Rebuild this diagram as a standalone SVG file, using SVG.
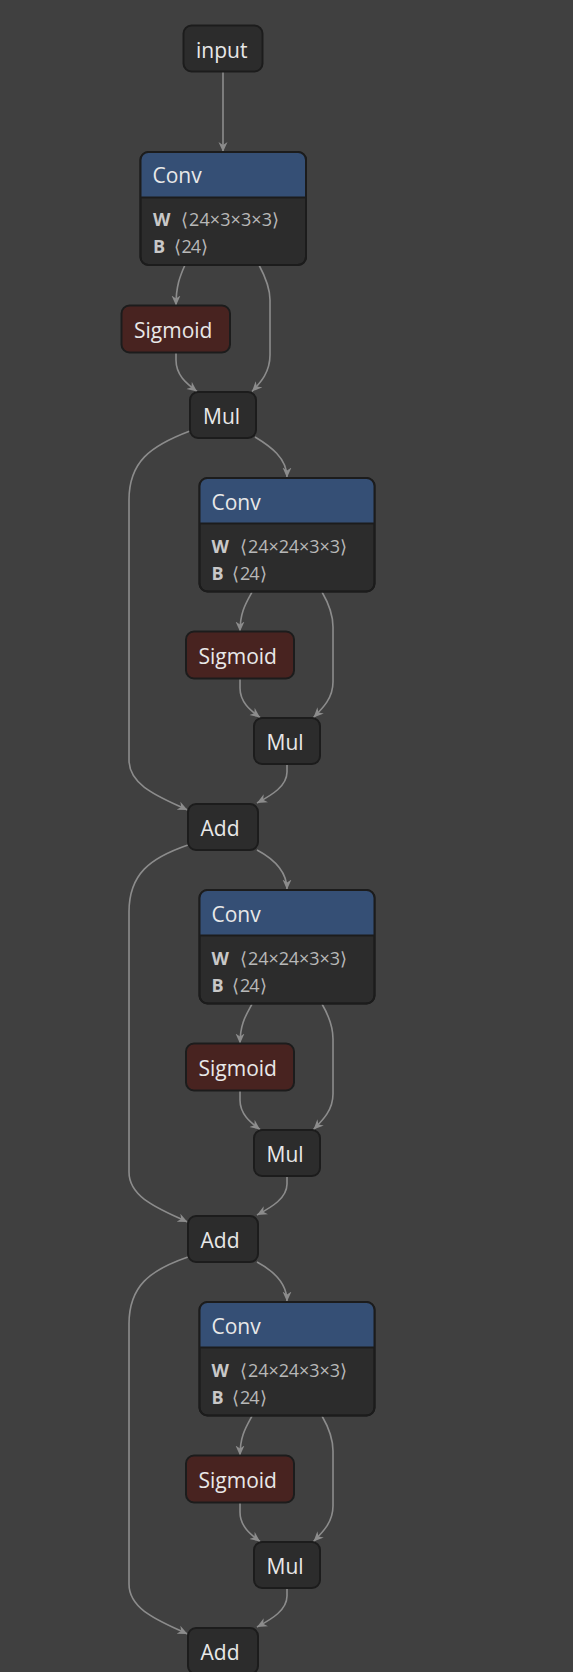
<svg xmlns="http://www.w3.org/2000/svg" width="573" height="1672" viewBox="0 0 573 1672">
<style>
.bg{fill:#404040}
.box{fill:#2c2c2c;stroke:#1c1c1c;stroke-width:2}
.frame{fill:none;stroke:#1c1c1c;stroke-width:2}
.hdr{fill:#354f75}
.sig{fill:#482320;stroke:#1c1c1c;stroke-width:2}
.lbl{font-family:"Segoe UI","Open Sans","Noto Sans",sans-serif;font-size:21px;fill:#e8e8e8}
.att{font-family:"Segoe UI","Open Sans","Noto Sans",sans-serif;font-size:18px;fill:#b8b8b8}
.attb{font-weight:bold;fill:#c8c8c8}
.edge{fill:none;stroke:#8c8c8c;stroke-width:1.6;marker-end:url(#arr)}
</style>
<defs>
<marker id="arr" viewBox="0 0 10 10" refX="10" refY="5" markerWidth="10" markerHeight="10" markerUnits="userSpaceOnUse" orient="auto">
<path d="M0,0.5 L10,5 L0,9.5 L3,5 Z" fill="#8c8c8c"/>
</marker>
</defs>
<rect class="bg" x="0" y="0" width="573" height="1672"/>

<g id="connectors">
<path class="edge" d="M223,72 L223,152"/>
<path class="edge" d="M185,265 C180,276 176,286 176,305.5"/>
<path class="edge" d="M259,265 C266,278 270,288 270,300 L270,355 C270,372 261,382 252,391.5"/>
<path class="edge" d="M176,352.5 L176,360 C176,375 186,383 197,391.5"/>
<path class="edge" d="M255,437 C270,446 287,458 287,477.5"/>
<path class="edge" d="M190,431 C150,446 129,462 129,500 L129,760 C129,786 160,797 187.5,810"/>

<path class="edge" d="M252,592 C246,603 240,612 240,631.5"/>
<path class="edge" d="M322,592 C329,604 333,614 333,627 L333,682 C333,698 323,708 313.5,717.5"/>
<path class="edge" d="M240,678.5 L240,688 C240,702 250,710 260,717.5"/>
<path class="edge" d="M287,764 L287,772 C287,786 272,795 257,803"/>

<path class="edge" d="M257,850 C272,858 287,870 287,889.5"/>
<path class="edge" d="M188,845 C150,858 129,874 129,912 L129,1172 C129,1198 160,1209 187.5,1222"/>

<path class="edge" d="M252,1004 C246,1015 240,1024 240,1043.5"/>
<path class="edge" d="M322,1004 C329,1016 333,1026 333,1039 L333,1094 C333,1110 323,1120 313.5,1129.5"/>
<path class="edge" d="M240,1090.5 L240,1100 C240,1114 250,1122 260,1129.5"/>
<path class="edge" d="M287,1176 L287,1184 C287,1198 272,1207 257,1215"/>

<path class="edge" d="M257,1262 C272,1270 287,1282 287,1301.5"/>
<path class="edge" d="M188,1257 C150,1270 129,1286 129,1324 L129,1584 C129,1610 160,1621 187.5,1634"/>

<path class="edge" d="M252,1416 C246,1427 240,1436 240,1455.5"/>
<path class="edge" d="M322,1416 C329,1428 333,1438 333,1451 L333,1506 C333,1522 323,1532 313.5,1541.5"/>
<path class="edge" d="M240,1502.5 L240,1512 C240,1526 250,1534 260,1541.5"/>
<path class="edge" d="M287,1588 L287,1596 C287,1610 272,1619 257,1627"/>
</g>

<g id="input">
<rect class="box" x="183.5" y="25.5" width="79" height="46" rx="8"/>
<text class="lbl" x="196" y="58">input</text>
</g>

<g id="conv1">
<rect class="box" x="140.5" y="152" width="165.5" height="113" rx="8"/>
<path class="hdr" d="M140.5,197.5 V160 A8,8 0 0 1 148.5,152 H298 A8,8 0 0 1 306,160 V197.5 Z"/>
<line x1="140.5" y1="197.5" x2="306" y2="197.5" stroke="#1c1c1c" stroke-width="2"/>
<rect class="frame" x="140.5" y="152" width="165.5" height="113" rx="8"/>
<text class="lbl" x="152.5" y="183">Conv</text>
<text class="att" y="226"><tspan class="attb" x="153">W</tspan><tspan x="181">⟨</tspan><tspan x="189" textLength="83" lengthAdjust="spacing">24×3×3×3</tspan><tspan x="272">⟩</tspan></text>
<text class="att" y="253"><tspan class="attb" x="153">B</tspan><tspan x="173.5">⟨</tspan><tspan x="181.5" textLength="19.5" lengthAdjust="spacing">24</tspan><tspan x="201">⟩</tspan></text>
</g>

<g id="sigmoid1">
<rect class="sig" x="121.5" y="305.5" width="108.5" height="47" rx="8"/>
<text class="lbl" x="134" y="337.5">Sigmoid</text>
</g>

<g id="mul1">
<rect class="box" x="190" y="392" width="66" height="46" rx="8"/>
<text class="lbl" x="203" y="423.5">Mul</text>
</g>

<g id="conv2">
<rect class="box" x="199.5" y="478" width="175" height="113.5" rx="8"/>
<path class="hdr" d="M199.5,523.5 V486 A8,8 0 0 1 207.5,478 H366.5 A8,8 0 0 1 374.5,486 V523.5 Z"/>
<line x1="199.5" y1="523.5" x2="374.5" y2="523.5" stroke="#1c1c1c" stroke-width="2"/>
<rect class="frame" x="199.5" y="478" width="175" height="113.5" rx="8"/>
<text class="lbl" x="211.5" y="509.5">Conv</text>
<text class="att" y="552.5"><tspan class="attb" x="211.5">W</tspan><tspan x="240">⟨</tspan><tspan x="248" textLength="92" lengthAdjust="spacing">24×24×3×3</tspan><tspan x="339.5">⟩</tspan></text>
<text class="att" y="580"><tspan class="attb" x="211.5">B</tspan><tspan x="232">⟨</tspan><tspan x="240" textLength="19.5" lengthAdjust="spacing">24</tspan><tspan x="259.5">⟩</tspan></text>
</g>
<g id="sigmoid2">
<rect class="sig" x="186" y="631.5" width="108" height="47" rx="8"/>
<text class="lbl" x="198.5" y="663.5">Sigmoid</text>
</g>
<g id="mul2">
<rect class="box" x="254" y="718" width="66" height="46" rx="8"/>
<text class="lbl" x="266.5" y="750">Mul</text>
</g>
<g id="add1">
<rect class="box" x="188" y="804" width="70" height="46" rx="8"/>
<text class="lbl" x="200.5" y="836">Add</text>
</g>

<g id="conv3" transform="translate(0,412)">
<rect class="box" x="199.5" y="478" width="175" height="113.5" rx="8"/>
<path class="hdr" d="M199.5,523.5 V486 A8,8 0 0 1 207.5,478 H366.5 A8,8 0 0 1 374.5,486 V523.5 Z"/>
<line x1="199.5" y1="523.5" x2="374.5" y2="523.5" stroke="#1c1c1c" stroke-width="2"/>
<rect class="frame" x="199.5" y="478" width="175" height="113.5" rx="8"/>
<text class="lbl" x="211.5" y="509.5">Conv</text>
<text class="att" y="552.5"><tspan class="attb" x="211.5">W</tspan><tspan x="240">⟨</tspan><tspan x="248" textLength="92" lengthAdjust="spacing">24×24×3×3</tspan><tspan x="339.5">⟩</tspan></text>
<text class="att" y="580"><tspan class="attb" x="211.5">B</tspan><tspan x="232">⟨</tspan><tspan x="240" textLength="19.5" lengthAdjust="spacing">24</tspan><tspan x="259.5">⟩</tspan></text>
</g>
<g id="sigmoid3" transform="translate(0,412)">
<rect class="sig" x="186" y="631.5" width="108" height="47" rx="8"/>
<text class="lbl" x="198.5" y="663.5">Sigmoid</text>
</g>
<g id="mul3" transform="translate(0,412)">
<rect class="box" x="254" y="718" width="66" height="46" rx="8"/>
<text class="lbl" x="266.5" y="750">Mul</text>
</g>
<g id="add2" transform="translate(0,412)">
<rect class="box" x="188" y="804" width="70" height="46" rx="8"/>
<text class="lbl" x="200.5" y="836">Add</text>
</g>

<g id="conv4" transform="translate(0,824)">
<rect class="box" x="199.5" y="478" width="175" height="113.5" rx="8"/>
<path class="hdr" d="M199.5,523.5 V486 A8,8 0 0 1 207.5,478 H366.5 A8,8 0 0 1 374.5,486 V523.5 Z"/>
<line x1="199.5" y1="523.5" x2="374.5" y2="523.5" stroke="#1c1c1c" stroke-width="2"/>
<rect class="frame" x="199.5" y="478" width="175" height="113.5" rx="8"/>
<text class="lbl" x="211.5" y="509.5">Conv</text>
<text class="att" y="552.5"><tspan class="attb" x="211.5">W</tspan><tspan x="240">⟨</tspan><tspan x="248" textLength="92" lengthAdjust="spacing">24×24×3×3</tspan><tspan x="339.5">⟩</tspan></text>
<text class="att" y="580"><tspan class="attb" x="211.5">B</tspan><tspan x="232">⟨</tspan><tspan x="240" textLength="19.5" lengthAdjust="spacing">24</tspan><tspan x="259.5">⟩</tspan></text>
</g>
<g id="sigmoid4" transform="translate(0,824)">
<rect class="sig" x="186" y="631.5" width="108" height="47" rx="8"/>
<text class="lbl" x="198.5" y="663.5">Sigmoid</text>
</g>
<g id="mul4" transform="translate(0,824)">
<rect class="box" x="254" y="718" width="66" height="46" rx="8"/>
<text class="lbl" x="266.5" y="750">Mul</text>
</g>
<g id="add3" transform="translate(0,824)">
<rect class="box" x="188" y="804" width="70" height="46" rx="8"/>
<text class="lbl" x="200.5" y="836">Add</text>
</g>
</svg>
